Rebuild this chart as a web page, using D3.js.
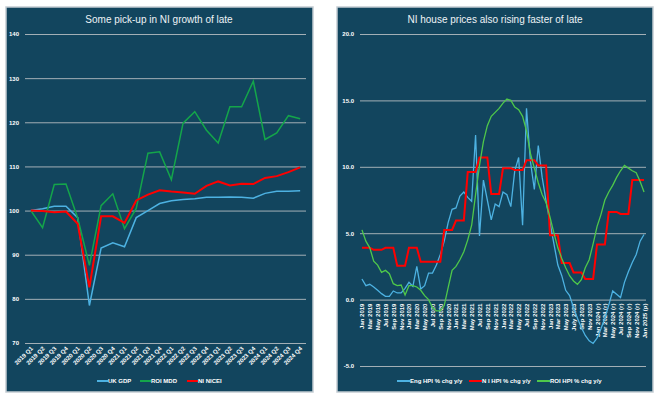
<!DOCTYPE html>
<html><head><meta charset="utf-8">
<script src="https://cdn.jsdelivr.net/npm/d3@7"></script>
<style>body{margin:0;background:#fff;} svg{display:block}</style>
</head><body><svg id="c" width="659" height="398"></svg>
<script>
// ---------- Left chart data ----------
const quarters = ["2019 Q1","2019 Q2","2019 Q3","2019 Q4","2020 Q1","2020 Q2","2020 Q3","2020 Q4",
  "2021 Q1","2021 Q2","2021 Q3","2021 Q4","2022 Q1","2022 Q2","2022 Q3","2022 Q4",
  "2023 Q1","2023 Q2","2023 Q3","2023 Q4","2024 Q1","2024 Q2","2024 Q3","2024 Q4"];
const ukGdp   = [100,100.4,101,101,98.4,78.5,91.5,92.7,91.8,98.4,100,101.6,102.2,102.5,102.7,103,103,103.1,103,102.8,103.9,104.4,104.4,104.5];
const roiMdd  = [100,96.1,105.9,106.0,98.3,87.6,101.1,103.8,95.9,100.5,113.0,113.3,107.0,119.8,122.4,118.2,115.3,123.5,123.5,129.3,116.1,117.6,121.5,120.8];
const niNicei = [100,99.9,99.6,99.8,97.0,82.6,98.7,98.7,97.2,102.3,103.6,104.6,104.3,104.1,103.8,105.6,106.6,105.7,106.1,106.0,107.4,107.8,108.7,109.8];
const leftTicks = [70,80,90,100,110,120,130,140];
const leftTitle = "Some pick-up in NI growth of late";
const leftNames = ["UK GDP","ROI MDD","NI NICEI"];

// ---------- Right chart data ----------
const months = ["Jan 2019","Feb 2019","Mar 2019","Apr 2019","May 2019","Jun 2019","Jul 2019","Aug 2019","Sep 2019","Oct 2019","Nov 2019","Dec 2019",
  "Jan 2020","Feb 2020","Mar 2020","Apr 2020","May 2020","Jun 2020","Jul 2020","Aug 2020","Sep 2020","Oct 2020","Nov 2020","Dec 2020",
  "Jan 2021","Feb 2021","Mar 2021","Apr 2021","May 2021","Jun 2021","Jul 2021","Aug 2021","Sep 2021","Oct 2021","Nov 2021","Dec 2021",
  "Jan 2022","Feb 2022","Mar 2022","Apr 2022","May 2022","Jun 2022","Jul 2022","Aug 2022","Sep 2022","Oct 2022","Nov 2022","Dec 2022",
  "Jan 2023","Feb 2023","Mar 2023","Apr 2023","May 2023","Jun 2023","July 2023","Aug 2023","Sep 2023","Oct 2023","Nov 2023","Dec 2023",
  "Jan 2024 (r)","Feb 2024 (r)","Mar 2024 (r)","Apr 2024 (r)","May 2024 (r)","Jun 2024 (r)","Jul 2024 (r)","Aug 2024 (r)","Sep 2024 (r)","Oct 2024 (r)","Nov 2024 (r)","Dec 2024 (r)",
  "Jan 2025 (p)"];
const engHpi = [1.55,1.05,1.15,0.95,0.7,0.45,0.25,0.25,0.65,0.5,0.5,0.85,
  1.3,1.0,2.5,0.8,1.05,2.0,2.0,2.6,3.4,4.4,5.8,6.8,
  6.9,7.8,8.1,7.7,7.4,12.4,4.8,9.0,7.5,6.0,7.2,7.0,
  8.1,7.9,7.0,9.7,10.7,5.6,14.4,10.4,8.3,11.6,9.2,7.4,
  5.8,4.2,2.6,1.8,0.7,0.3,-0.6,-1.4,-2.1,-2.7,-3.1,-3.3,
  -2.9,-2.2,-1.4,-0.4,0.65,0.4,0.15,1.3,2.1,2.8,3.4,4.4,
  4.9];
const niHpi = [3.9,3.9,3.9,3.75,3.75,3.75,3.9,3.9,3.9,2.55,2.55,2.55,
  3.9,3.9,3.9,2.85,2.85,2.85,2.85,2.85,2.85,5.25,5.25,5.25,
  5.95,5.95,5.95,9.6,9.6,9.6,10.7,10.7,10.7,7.95,7.95,7.95,
  9.9,9.9,9.9,9.75,9.75,9.75,10.5,10.5,10.5,10.1,10.1,10.1,
  4.85,4.85,4.85,2.75,2.75,2.75,2.05,2.05,2.05,1.55,1.55,1.55,
  4.15,4.15,4.15,6.6,6.6,6.6,6.45,6.45,6.45,9.0,9.0,9.0,
  9.0];
const roiHpi = [5.25,4.4,3.9,2.9,2.6,2.05,2.2,1.95,1.2,1.05,1.1,0.35,
  1.05,1.05,0.95,0.7,0.3,0.0,-0.6,-0.85,-0.85,-0.45,0.9,2.2,
  2.5,3.0,3.6,4.5,5.6,7.9,10.1,11.9,13.1,13.8,14.1,14.4,
  14.8,15.1,15.0,14.5,14.3,13.8,12.7,11.0,9.9,8.8,7.9,7.3,
  6.2,5.0,3.9,3.1,2.4,1.8,1.4,1.15,1.5,2.4,3.0,4.2,
  5.5,6.4,7.5,8.1,8.6,9.2,9.7,10.1,9.9,9.7,9.55,8.9,
  8.1];
const rightTicks = [-5,0,5,10,15,20];
const rightTitle = "NI house prices also rising faster of late";
const rightNames = ["Eng HPI % chg y/y","N I HPI % chg y/y","ROI HPI % chg y/y"];

// ---------- Styling ----------
const BG = "#12455e", GRID = "#a3afb6", BORDER = "#c3ccd2", TXT = "#ffffff";
const FONT = "'Liberation Sans Narrow','Arial Narrow','Liberation Sans',Arial,sans-serif";
const BLUE = "#4db2e2", RED = "#ff0000", GREEN_L = "#14a54a", GREEN_R = "#4fc84a";
const SMALL = "bold 6px " + FONT;

const svg = d3.select("#c");

function panel(x0, y0, x1, y1) {
  svg.append("rect").attr("x", x0).attr("y", y0).attr("width", x1 - x0).attr("height", y1 - y0)
    .attr("fill", BG).attr("stroke", BORDER).attr("stroke-width", 1.5);
}

// ===== Left chart =====
panel(6, 7, 313, 392);
{
  const x = d3.scalePoint().domain(quarters).range([25, 306]).padding(0.5);
  const y = d3.scaleLinear().domain([70, 140]).range([343, 34]);
  const g = svg.append("g");
  const yAxis = d3.axisLeft(y).tickValues(leftTicks).tickSize(-281).tickFormat(d3.format("d"));
  const ya = g.append("g").attr("transform", "translate(25,0)").call(yAxis);
  ya.select(".domain").remove();
  ya.selectAll(".tick line").attr("stroke", GRID).attr("stroke-width", 1);
  ya.selectAll(".tick text").attr("x", -6).attr("fill", TXT).style("font", SMALL);

  const xAxis = d3.axisBottom(x).tickSize(0);
  const xa = g.append("g").attr("transform", "translate(0,343)").call(xAxis);
  xa.select(".domain").remove();
  xa.selectAll(".tick text").attr("fill", TXT).style("font", SMALL)
    .attr("text-anchor", "end").attr("dy", null).attr("y", 0)
    .attr("transform", "translate(2,6) rotate(-45)");

  const line = d3.line().x((d, i) => x(quarters[i])).y(d => y(d));
  g.append("path").datum(ukGdp).attr("d", line).attr("fill", "none").attr("stroke", BLUE).attr("stroke-width", 1.5);
  g.append("path").datum(roiMdd).attr("d", line).attr("fill", "none").attr("stroke", GREEN_L).attr("stroke-width", 1.5);
  g.append("path").datum(niNicei).attr("d", line).attr("fill", "none").attr("stroke", RED).attr("stroke-width", 2);

  svg.append("text").attr("x", 159).attr("y", 23).attr("text-anchor", "middle").attr("fill", "#eef3f6")
    .style("font", "10px " + FONT).text(leftTitle);

  const lg = [[97, BLUE], [140, GREEN_L], [187, RED]];
  lg.forEach((d, i) => {
    svg.append("line").attr("x1", d[0]).attr("x2", d[0] + 11).attr("y1", 381).attr("y2", 381)
      .attr("stroke", d[1]).attr("stroke-width", 2);
    svg.append("text").attr("x", d[0] + 11).attr("y", 383).attr("fill", TXT)
      .style("font", SMALL).text(leftNames[i]);
  });
}

// ===== Right chart =====
panel(337, 7, 653, 392);
{
  const x = d3.scalePoint().domain(months).range([360, 646]).padding(0.5);
  const y = d3.scaleLinear().domain([-5, 20]).range([366, 34]);
  const g = svg.append("g");
  const yAxis = d3.axisLeft(y).tickValues(rightTicks).tickSize(-286).tickFormat(d3.format(".1f"));
  const ya = g.append("g").attr("transform", "translate(360,0)").call(yAxis);
  ya.select(".domain").remove();
  ya.selectAll(".tick line").attr("stroke", GRID).attr("stroke-width", 1);
  ya.selectAll(".tick text").attr("x", -6).attr("fill", TXT).style("font", SMALL)
    .text(d => d3.format(".1f")(d).replace("\u2212", "-"));

  const shown = months.filter((m, i) => i % 2 === 0);
  const xAxis = d3.axisBottom(x).tickValues(shown).tickSize(0);
  const xa = g.append("g").attr("transform", `translate(0,${y(0)})`).call(xAxis);
  xa.select(".domain").remove();
  xa.selectAll(".tick text").attr("fill", TXT).style("font", SMALL)
    .attr("text-anchor", "end").attr("dy", null).attr("y", 0)
    .attr("transform", "translate(2,4) rotate(-90)");

  const line = d3.line().x((d, i) => x(months[i])).y(d => y(d));
  g.append("path").datum(engHpi).attr("d", line).attr("fill", "none").attr("stroke", BLUE).attr("stroke-width", 1.3);
  g.append("path").datum(niHpi).attr("d", line).attr("fill", "none").attr("stroke", RED).attr("stroke-width", 2);
  g.append("path").datum(roiHpi).attr("d", line).attr("fill", "none").attr("stroke", GREEN_R).attr("stroke-width", 1.3);

  svg.append("text").attr("x", 495).attr("y", 23).attr("text-anchor", "middle").attr("fill", "#eef3f6")
    .style("font", "10px " + FONT).text(rightTitle);

  const lg = [[397, BLUE], [469, RED], [537, GREEN_R]];
  lg.forEach((d, i) => {
    svg.append("line").attr("x1", d[0]).attr("x2", d[0] + 13).attr("y1", 381).attr("y2", 381)
      .attr("stroke", d[1]).attr("stroke-width", 2);
    svg.append("text").attr("x", d[0] + 13).attr("y", 383).attr("fill", TXT)
      .style("font", SMALL).text(rightNames[i]);
  });
}
</script></body></html>
